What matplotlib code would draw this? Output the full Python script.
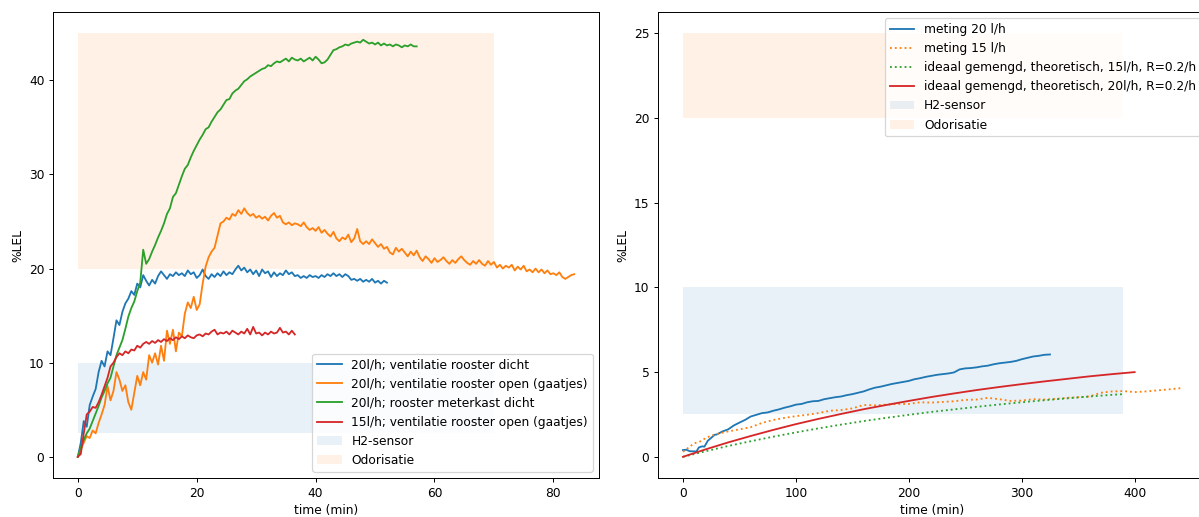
import numpy as np
import matplotlib
matplotlib.use("Agg")
import matplotlib.pyplot as plt

# --- metingen meterkast (links), sample-interval 0.5 min ---
DT = 0.5

lel_20_dicht = [
    0.0, 1.5, 3.8, 3.2, 5.5, 6.4, 7.2, 9.0, 10.2, 9.6, 11.2, 10.8, 12.6, 14.5, 14.0, 15.4,
    16.3, 16.8, 17.6, 17.2, 18.4, 18.0, 19.3, 18.7, 18.2, 18.8, 18.4, 19.2, 19.7, 19.3, 18.9, 19.4,
    19.2, 19.6, 19.3, 19.5, 19.2, 19.8, 19.4, 19.6, 19.0, 19.3, 19.9, 19.2, 18.9, 19.4, 19.1, 19.5,
    19.2, 19.7, 19.3, 19.6, 19.4, 19.9, 20.3, 19.8, 20.1, 19.6, 19.9, 19.4, 19.8, 19.2, 19.9, 19.5,
    19.7, 19.1, 19.6, 19.2, 19.5, 19.3, 19.8, 19.4, 19.6, 19.2, 19.3, 19.0, 19.2, 19.0, 19.3, 19.1,
    19.2, 19.0, 19.3, 19.1, 19.4, 19.2, 19.5, 19.2, 19.4, 19.1, 19.4, 19.2, 18.8, 18.9, 18.7, 18.9,
    18.6, 18.8, 18.6, 18.9, 18.5, 18.7, 18.4, 18.7, 18.5,
]

lel_20_open = [
    0.0, 0.8, 1.5, 2.2, 2.0, 2.8, 2.5, 3.6, 4.5, 5.5, 7.5, 6.0, 7.0, 9.0, 8.2, 7.0,
    7.6, 5.8, 5.0, 6.8, 8.6, 7.6, 9.0, 8.2, 10.8, 10.0, 11.0, 9.8, 11.8, 10.2, 13.4, 12.0,
    13.5, 11.2, 13.2, 12.8, 15.2, 16.4, 15.8, 17.0, 15.6, 16.2, 18.4, 20.2, 21.2, 21.8, 22.2, 23.5,
    24.8, 25.0, 25.4, 25.2, 25.8, 25.6, 26.2, 25.8, 26.4, 25.9, 25.6, 25.8, 25.4, 25.6, 25.3, 25.5,
    25.1, 25.6, 25.9, 25.4, 25.6, 24.9, 24.7, 24.9, 24.6, 24.8, 24.7, 24.5, 24.9, 24.4, 24.1, 24.3,
    24.0, 24.4, 23.8, 24.1, 23.7, 23.4, 23.9, 23.2, 22.9, 23.3, 23.1, 23.6, 22.8, 23.2, 24.2, 22.9,
    22.6, 22.9, 22.6, 23.1, 22.7, 22.3, 22.6, 22.1, 22.3, 21.7, 21.5, 22.2, 21.8, 22.1, 21.7, 21.3,
    21.8, 21.4, 21.9, 21.2, 20.8, 21.3, 21.0, 20.6, 21.1, 20.7, 20.9, 21.2, 20.8, 20.5, 20.9, 20.6,
    21.0, 21.3, 20.9, 20.6, 20.4, 20.8, 20.5, 20.9, 20.5, 20.3, 20.8, 20.4, 20.7, 20.1, 20.4, 20.0,
    20.3, 20.1, 20.4, 19.8, 20.2, 19.9, 20.3, 19.7, 19.9, 19.6, 20.0, 19.6, 19.9, 19.5, 19.8, 19.4,
    19.5, 19.3, 19.6, 19.1, 18.9, 19.1, 19.3, 19.4,
]

lel_20_meterkast = [
    0.0, 1.0, 1.8, 2.5, 3.0, 3.8, 4.6, 5.4, 6.3, 7.0, 7.8, 8.4, 9.6, 10.8, 11.6, 12.4,
    13.6, 14.9, 15.8, 16.5, 17.6, 18.5, 22.0, 20.5, 21.0, 21.8, 22.5, 23.3, 24.0, 24.8, 25.8, 26.4,
    27.6, 28.0, 28.9, 29.8, 30.6, 31.0, 31.8, 32.5, 33.1, 33.7, 34.2, 34.8, 35.0, 35.6, 36.1, 36.6,
    36.9, 37.4, 37.9, 38.0, 38.6, 38.9, 39.1, 39.5, 39.9, 40.1, 40.4, 40.6, 40.8, 41.0, 41.2, 41.3,
    41.6, 41.5, 41.8, 42.0, 41.9, 42.1, 42.3, 42.0, 42.4, 42.2, 42.1, 42.3, 42.0, 42.2, 42.4, 42.1,
    42.5, 42.2, 41.8, 41.9, 42.2, 42.7, 43.2, 43.3, 43.5, 43.6, 43.8, 43.7, 43.9, 44.0, 44.1, 44.0,
    44.3, 44.1, 43.9, 44.0, 43.8, 44.0, 43.7, 43.9, 43.7, 43.8, 43.6, 43.8, 43.7, 43.5, 43.7, 43.6,
    43.8, 43.6, 43.6,
]

lel_15_open = [
    0.0, 0.3, 2.5, 4.5, 4.8, 5.3, 5.2, 5.8, 6.6, 7.5, 8.4, 9.6, 10.0, 10.6, 11.0, 10.8,
    11.2, 11.0, 11.4, 11.3, 11.8, 11.6, 12.0, 12.2, 12.0, 12.3, 12.1, 12.4, 12.2, 12.5, 12.3, 12.6,
    12.4, 12.7, 12.5, 12.8, 12.6, 12.9, 12.7, 12.6, 12.9, 13.0, 12.8, 13.1, 13.0, 13.3, 13.5, 13.0,
    13.2, 13.1, 13.3, 13.0, 13.4, 13.2, 13.0, 13.3, 13.1, 13.6, 13.0, 13.8, 13.1, 13.2, 12.9, 13.2,
    13.0, 13.3, 13.1, 13.2, 13.7, 13.2, 13.3, 13.0, 13.4, 13.0,
]

left_series = [
    (lel_20_dicht, "20l/h; ventilatie rooster dicht"),
    (lel_20_open, "20l/h; ventilatie rooster open (gaatjes)"),
    (lel_20_meterkast, "20l/h; rooster meterkast dicht"),
    (lel_15_open, "15l/h; ventilatie rooster open (gaatjes)"),
]

# --- lange meting (rechts) ---
t_meting_20 = [0, 3, 6, 12, 14, 17, 19, 22, 25, 28, 30, 35, 40, 45, 50, 55, 60, 65, 70, 75,
               80, 85, 90, 95, 100, 105, 110, 115, 120, 125, 130, 135, 140, 145, 150, 155,
               160, 165, 170, 175, 180, 185, 190, 195, 200, 205, 210, 215, 220, 225, 230,
               235, 240, 245, 250, 255, 260, 265, 270, 275, 280, 285, 290, 295, 300, 305,
               310, 315, 320, 325]
lel_meting_20 = [0.40, 0.42, 0.33, 0.32, 0.55, 0.62, 0.60, 0.95, 1.12, 1.30, 1.32, 1.50, 1.62,
                 1.85, 2.02, 2.18, 2.38, 2.48, 2.58, 2.62, 2.72, 2.80, 2.90, 2.98, 3.08, 3.12,
                 3.22, 3.28, 3.30, 3.40, 3.46, 3.52, 3.56, 3.64, 3.70, 3.78, 3.86, 3.98, 4.08,
                 4.14, 4.22, 4.30, 4.36, 4.42, 4.48, 4.58, 4.64, 4.72, 4.78, 4.84, 4.88, 4.92,
                 4.98, 5.16, 5.22, 5.24, 5.28, 5.34, 5.38, 5.46, 5.52, 5.56, 5.60, 5.66, 5.76,
                 5.84, 5.92, 5.96, 6.02, 6.04]

t_meting_15 = [0, 5, 10, 15, 20, 25, 30, 40, 50, 60, 70, 80, 90, 100, 110, 120, 130, 140, 150,
               160, 170, 180, 190, 200, 210, 220, 230, 240, 250, 260, 270, 280, 290, 300, 310,
               320, 330, 340, 350, 360, 370, 380, 390, 400, 410, 420, 430, 442]
lel_meting_15 = [0.30, 0.55, 0.80, 0.90, 1.10, 1.25, 1.35, 1.50, 1.62, 1.75, 2.00, 2.18, 2.30,
                 2.40, 2.48, 2.58, 2.72, 2.76, 2.86, 3.06, 3.04, 3.08, 3.12, 3.12, 3.22, 3.20,
                 3.24, 3.28, 3.36, 3.38, 3.48, 3.40, 3.30, 3.32, 3.40, 3.38, 3.42, 3.48, 3.52,
                 3.56, 3.78, 3.86, 3.88, 3.82, 3.86, 3.92, 3.98, 4.06]

t_theorie = [0, 20, 40, 60, 80, 100, 120, 140, 160, 180, 200, 220, 240, 260, 280, 300, 320,
             340, 360, 380, 390, 400]
lel_theorie_15 = [0.00, 0.33, 0.64, 0.92, 1.19, 1.44, 1.68, 1.90, 2.11, 2.30, 2.48, 2.65,
                  2.80, 2.95, 3.09, 3.22, 3.34, 3.45, 3.56, 3.66, 3.70]
lel_theorie_20 = [0.00, 0.44, 0.85, 1.23, 1.59, 1.93, 2.24, 2.53, 2.81, 3.06, 3.30, 3.53,
                  3.74, 3.94, 4.12, 4.29, 4.45, 4.60, 4.75, 4.88, 4.94, 5.00]

# meetbereik H2-sensor en odorisatie (%LEL) per paneel
h2_band = (2.5, 10)
odor_band_left = (20, 45)
odor_band_right = (20, 25)
band_end_left = 70
band_end_right = 390


def add_bands(ax, t_end, odor_band):
    ax.fill_between([0, t_end], *h2_band, color="tab:blue", alpha=0.1,
                    linewidth=0, label="H2-sensor")
    ax.fill_between([0, t_end], *odor_band, color="tab:orange", alpha=0.1,
                    linewidth=0, label="Odorisatie")


DPI = 88
fig = plt.figure(figsize=(1199 / DPI, 517 / DPI), dpi=DPI)
ax1 = fig.add_axes([0.0442, 0.0754, 0.4554, 0.9014])
ax2 = fig.add_axes([0.5488, 0.0754, 0.4579, 0.9014])

for values, label in left_series:
    t = np.arange(len(values)) * DT
    ax1.plot(t, values, label=label)
add_bands(ax1, band_end_left, odor_band_left)
ax1.set_xlabel("time (min)")
ax1.set_ylabel("%LEL")
ax1.legend(loc="lower right")

ax2.plot(t_meting_20, lel_meting_20, label="meting 20 l/h")
ax2.plot(t_meting_15, lel_meting_15, ":", label="meting 15 l/h")
ax2.plot(t_theorie[:-1], lel_theorie_15, ":",
         label="ideaal gemengd, theoretisch, 15l/h, R=0.2/h")
ax2.plot(t_theorie, lel_theorie_20,
         label="ideaal gemengd, theoretisch, 20l/h, R=0.2/h")
add_bands(ax2, band_end_right, odor_band_right)
ax2.set_xlabel("time (min)")
ax2.set_ylabel("%LEL")
ax2.legend(loc="upper right")

fig.savefig("out.png", dpi=DPI)
